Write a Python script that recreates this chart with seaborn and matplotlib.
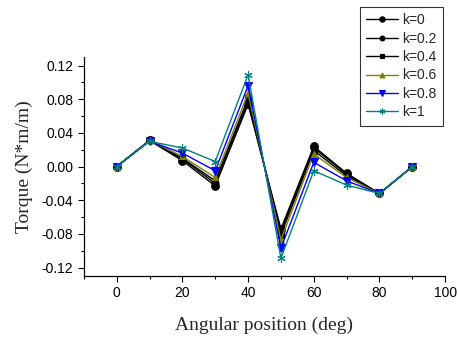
"""
Torque vs angular position for several k values.
"""

import matplotlib.pyplot as plt
import pandas as pd
import seaborn as sns
from matplotlib.ticker import MultipleLocator

angles = [0, 10, 20, 30, 40, 50, 60, 70, 80, 90]
k_labels = ["k=0", "k=0.2", "k=0.4", "k=0.6", "k=0.8", "k=1"]
torque_k0 = [0, 0.031, 0.007, -0.023, 0.074, -0.074, 0.024, -0.008, -0.032, 0]
torque_k02 = [0, 0.031, 0.009, -0.020, 0.077, -0.077, 0.022, -0.009, -0.032, 0]
torque_k04 = [0, 0.031, 0.010, -0.017, 0.081, -0.081, 0.019, -0.011, -0.032, 0]
torque_k06 = [0, 0.031, 0.012, -0.013, 0.087, -0.087, 0.015, -0.013, -0.032, 0]
torque_k08 = [0, 0.030, 0.016, -0.005, 0.096, -0.097, 0.005, -0.017, -0.032, 0]
torque_k1 = [0, 0.030, 0.022, 0.006, 0.109, -0.109, -0.005, -0.022, -0.032, 0]

series = [torque_k0, torque_k02, torque_k04, torque_k06, torque_k08, torque_k1]
colors = ["black", "black", "black", "#808000", "blue", "#008080"]
markers = ["o", "o", "s", "^", "v", (6, 2, 0)]
sizes = [5.5, 5, 4, 5, 6, 6]

sns.set_style("ticks")
plt.rcParams["font.family"] = ["Liberation Sans", "DejaVu Sans"]

fig = plt.figure(figsize=(4.58, 3.42), dpi=100)
ax = fig.add_axes([0.183, 0.193, 0.789, 0.64])

for label, values, color, marker, ms in zip(k_labels, series, colors, markers, sizes):
    df = pd.DataFrame({"angle": angles, "torque": values})
    sns.lineplot(
        data=df, x="angle", y="torque", ax=ax, color=color, marker=marker,
        markersize=ms, markeredgecolor=color, markeredgewidth=0.8,
        linewidth=1.0, label=label,
    )

ax.set_xlim(-10, 100)
ax.set_ylim(-0.13, 0.13)
ax.xaxis.set_major_locator(MultipleLocator(20))
ax.xaxis.set_minor_locator(MultipleLocator(10))
yticks = [-0.12, -0.08, -0.04, 0.0, 0.04, 0.08, 0.12]
ax.set_yticks(yticks)
ax.set_yticklabels([f"{v:.2f}" for v in yticks])
ax.yaxis.set_minor_locator(MultipleLocator(0.02))
ax.tick_params(axis="both", which="major", labelsize=10, length=4, width=0.8,
               color="black", labelcolor="black")
ax.tick_params(axis="both", which="minor", length=2.5, width=0.8, color="black")
for side in ["left", "bottom"]:
    ax.spines[side].set_color("black")
    ax.spines[side].set_linewidth(0.9)
sns.despine(ax=ax)

ax.set_xlabel("Angular position (deg)", family="Liberation Serif", fontsize=14,
              labelpad=12)
ax.set_ylabel("Torque (N*m/m)", family="Liberation Serif", fontsize=14,
              labelpad=6)

leg = ax.legend(loc="upper right", bbox_to_anchor=(0.967, 0.98),
                bbox_transform=fig.transFigure, fontsize=10, frameon=True,
                fancybox=False, edgecolor="black", handlelength=2.3,
                labelspacing=0.32, borderpad=0.45, handletextpad=0.3,
                borderaxespad=0, markerscale=0.7)
leg.get_frame().set_linewidth(0.8)

fig.savefig("out.png", dpi=100)
